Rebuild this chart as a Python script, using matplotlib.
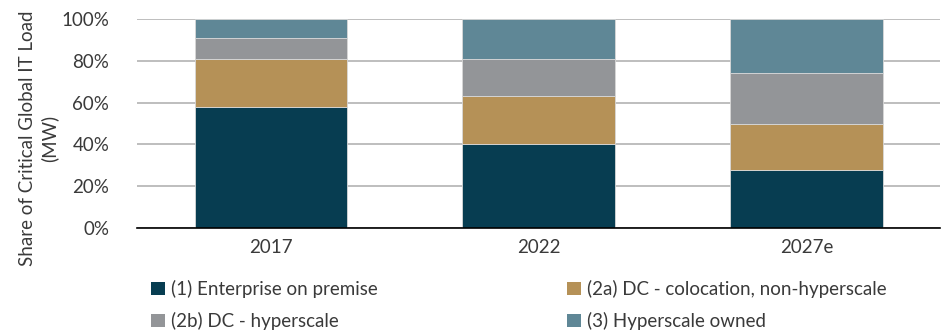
import numpy as np
import matplotlib.pyplot as plt
from matplotlib.ticker import PercentFormatter
from matplotlib.patches import Patch

plt.rcParams['font.family'] = ['Lato', 'DejaVu Sans']

years = ['2017', '2022', '2027e']
enterprise = [58, 40.3, 28]
colocation = [23, 23, 22]
dc_hyperscale = [10, 17.5, 24]
hyperscale_owned = [9, 19.2, 26]

series = [
    ('(1) Enterprise on premise', enterprise, '#073d51'),
    ('(2a) DC - colocation, non-hyperscale', colocation, '#b59157'),
    ('(2b) DC - hyperscale', dc_hyperscale, '#939598'),
    ('(3) Hyperscale owned', hyperscale_owned, '#5f8796'),
]

fig = plt.figure(figsize=(9.45, 3.33), dpi=100)
ax = fig.add_axes([0.145, 0.315, 0.85, 0.628])

x = np.arange(len(years))
bottom = np.zeros(len(years))
for name, vals, col in series:
    ax.bar(x, vals, 0.57, bottom=bottom, color=col, edgecolor='#d8d8d8',
           linewidth=0.6, zorder=3)
    bottom += np.array(vals)

ax.set_xlim(-0.5, 2.5)
ax.set_ylim(0, 100)
ax.set_yticks(np.arange(0, 101, 20))
ax.yaxis.set_major_formatter(PercentFormatter(decimals=0))
ax.set_xticks(x)
ax.set_xticklabels(years)
ax.grid(axis='y', color='#b3b3b3', linewidth=1.2, zorder=0)
for s in ['top', 'right', 'left']:
    ax.spines[s].set_visible(False)
ax.spines['bottom'].set_color('black')
ax.spines['bottom'].set_linewidth(1.2)
ax.spines['bottom'].set_zorder(4)
ax.tick_params(length=0, labelsize=13.5, colors='#3a3a3a', pad=8)
ax.tick_params(axis='y', pad=20)
ax.set_ylabel('Share of Critical Global IT Load\n(MW)', fontsize=13.5,
              color='#3a3a3a', linespacing=1.3)
ax.yaxis.set_label_coords(-0.098, 0.43)

handles = [Patch(facecolor=c, label=n) for n, v, c in series]
order = [0, 2, 1, 3]
fig.legend([handles[i] for i in order], [series[i][0] for i in order],
           loc='lower left', bbox_to_anchor=(0.148, -0.025), ncol=2,
           frameon=False, fontsize=13.5, handlelength=0.75, handleheight=0.75,
           handletextpad=0.3, columnspacing=10.1, labelspacing=0.75,
           labelcolor='#3a3a3a', borderaxespad=0.2)

fig.savefig('out.png', dpi=100)
